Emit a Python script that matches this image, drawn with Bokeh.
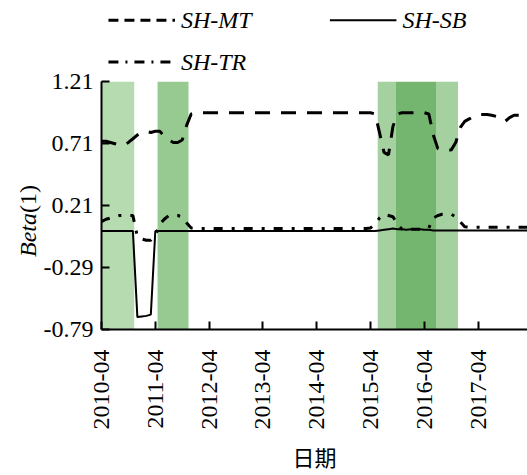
import math
from bokeh.plotting import figure
from bokeh.layouts import row
from bokeh.models import Range1d, FixedTicker, Div
from bokeh.core.properties import value
from bokeh.embed import file_html
from bokeh.resources import INLINE

# ---------------- data ----------------
# monthly observations, index 0 = 2010-04
months = list(range(96))

sh_mt = [0.73, 0.73, 0.72, 0.71, 0.70, 0.70, 0.72, 0.75, 0.78, 0.80,
         0.81, 0.80, 0.81, 0.81, 0.77, 0.74, 0.72, 0.72, 0.74, 0.86,
         0.95, 0.96, 0.96, 0.96, 0.96, 0.96, 0.96, 0.96, 0.96, 0.96,
         0.96, 0.96, 0.96, 0.96, 0.96, 0.96, 0.96, 0.96, 0.96, 0.96,
         0.96, 0.96, 0.96, 0.96, 0.96, 0.96, 0.96, 0.96, 0.96, 0.96,
         0.96, 0.96, 0.96, 0.96, 0.96, 0.96, 0.96, 0.96, 0.96, 0.96,
         0.96, 0.95, 0.80, 0.64, 0.62, 0.85, 0.95, 0.96, 0.96, 0.96,
         0.96, 0.96, 0.96, 0.95, 0.78, 0.67, 0.66, 0.66, 0.66, 0.72,
         0.84, 0.89, 0.91, 0.93, 0.945, 0.945, 0.945, 0.94, 0.93, 0.91,
         0.89, 0.92, 0.94, 0.94, 0.94, 0.94]

sh_sb = [0.005, 0.005, 0.005, 0.005, 0.005, 0.005, 0.005, 0.005, -0.69, -0.685,
         -0.68, -0.67, 0.005, 0.005, 0.005, 0.005, 0.005, 0.005, 0.005, 0.005,
         0.005, 0.005, 0.005, 0.005, 0.005, 0.005, 0.005, 0.005, 0.005, 0.005,
         0.005, 0.005, 0.005, 0.005, 0.005, 0.005, 0.005, 0.005, 0.005, 0.005,
         0.005, 0.005, 0.005, 0.005, 0.005, 0.005, 0.005, 0.005, 0.005, 0.005,
         0.005, 0.005, 0.005, 0.005, 0.005, 0.005, 0.005, 0.005, 0.005, 0.005,
         0.005, 0.005, 0.01, 0.015, 0.02, 0.025, 0.02, 0.02, 0.015, 0.02,
         0.02, 0.02, 0.015, 0.015, 0.01, 0.01, 0.01, 0.01, 0.01, 0.01,
         0.01, 0.01, 0.01, 0.01, 0.01, 0.01, 0.01, 0.01, 0.01, 0.01,
         0.01, 0.01, 0.01, 0.01, 0.01, 0.01]

sh_tr = [0.08, 0.10, 0.11, 0.12, 0.13, 0.13, 0.13, 0.13, -0.04, -0.06,
         -0.07, -0.07, -0.03, 0.06, 0.10, 0.13, 0.13, 0.13, 0.12, 0.07,
         0.03, 0.025, 0.025, 0.025, 0.025, 0.025, 0.025, 0.025, 0.025, 0.025,
         0.025, 0.025, 0.025, 0.025, 0.025, 0.025, 0.025, 0.025, 0.025, 0.025,
         0.025, 0.025, 0.025, 0.025, 0.025, 0.025, 0.025, 0.025, 0.025, 0.025,
         0.025, 0.025, 0.025, 0.025, 0.025, 0.025, 0.025, 0.025, 0.025, 0.025,
         0.03, 0.06, 0.11, 0.14, 0.13, 0.12, 0.06, 0.02, 0.02, 0.02,
         0.02, 0.02, 0.02, 0.03, 0.11, 0.13, 0.14, 0.14, 0.14, 0.12,
         0.08, 0.04, 0.035, 0.035, 0.035, 0.035, 0.035, 0.035, 0.035, 0.035,
         0.035, 0.035, 0.035, 0.035, 0.035, 0.035]

series_names = ["SH-MT", "SH-SB", "SH-TR"]

# shaded regime periods (month index)
band_start = [0.0, 12.5, 61.6, 65.6, 74.6]
band_end = [7.3, 19.4, 65.6, 74.6, 79.5]
band_colors = ["#b6dbb0", "#97ca91", "#a5d09f", "#74b66f", "#a5d09f"]

y_ticks = [-0.79, -0.29, 0.21, 0.71, 1.21]
y_tick_labels = ["-0.79", "-0.29", "0.21", "0.71", "1.21"]
x_ticks = [0, 12, 24, 36, 48, 60, 72, 84]
x_tick_labels = ["2010-04", "2011-04", "2012-04", "2013-04",
                 "2014-04", "2015-04", "2016-04", "2017-04"]
y_title_parts = ["Beta", "(1)"]
x_title = "日期"

# ---------------- layout constants (pixels) ----------------
W, H = 527, 475
TITLE_W = 40          # strip holding the y title
FRAME_L = 98          # page x of the plot frame's left edge
FRAME_B = 332         # page y of the plot frame's bottom edge
PX_PER_UNIT = 125     # vertical pixels per beta unit
Y_MIN, Y_MAX = -0.79, 1.21
SERIF = "Liberation Serif"
STYLES = {"SH-MT": ("15 11", 3), "SH-SB": ("solid", 2), "SH-TR": ("9 9 3 9", 3)}
LEG_DASH = {"SH-MT": "10 6", "SH-SB": "solid", "SH-TR": "10 7 2 7"}

# ---------------- main figure ----------------
p = figure(width=W - TITLE_W, height=H, output_backend="svg", toolbar_location=None,
           x_range=Range1d(0, 95),
           y_range=Range1d(Y_MIN, Y_MIN + FRAME_B / PX_PER_UNIT),
           min_border_left=FRAME_L - TITLE_W, min_border_right=0,
           min_border_top=0, min_border_bottom=H - FRAME_B)
p.outline_line_color = None
p.grid.visible = False
p.background_fill_color = "white"
p.border_fill_color = "white"
# pixel-coordinate ranges for the legend drawn above the data area
p.extra_x_ranges = {"px": Range1d(FRAME_L, W)}
p.extra_y_ranges = {"px": Range1d(FRAME_B, 0)}

p.quad(left=band_start, right=band_end, bottom=Y_MIN, top=Y_MAX,
       fill_color=band_colors, line_color=None)

for name, ys in zip(series_names, [sh_mt, sh_sb, sh_tr]):
    dash, lw = STYLES[name]
    p.line(months, ys, line_color="black", line_width=lw, line_dash=dash)

# legend: (series, glyph left x, row centre y) in page pixels
leg_slots = [(series_names[0], 105, 20), (series_names[1], 328, 20),
             (series_names[2], 105, 62)]
for name, gx, gy in leg_slots:
    dash, lw = STYLES[name]
    p.line([gx, gx + 67], [gy, gy], line_color="black", line_width=lw,
           line_dash=LEG_DASH[name], x_range_name="px", y_range_name="px")
    p.text(x=[gx + 73], y=[gy], text=[name], text_font=value(SERIF),
           text_font_style=value("italic"), text_font_size=value("24px"),
           text_align="left", text_baseline="middle", text_color="black",
           x_range_name="px", y_range_name="px")

for ax in (p.xaxis[0], p.yaxis[0]):
    ax.axis_line_color = "black"
    ax.axis_line_width = 2
    ax.major_tick_line_color = "black"
    ax.major_tick_line_width = 2
    ax.major_tick_in = 8
    ax.major_tick_out = 0
    ax.minor_tick_line_color = None
    ax.major_label_text_font = SERIF
    ax.major_label_text_font_size = "24px"
    ax.major_label_text_color = "black"

p.yaxis.bounds = (Y_MIN, Y_MAX)
p.yaxis.ticker = FixedTicker(ticks=y_ticks)
p.yaxis.major_label_overrides = dict(zip(y_ticks, y_tick_labels))
p.yaxis.major_label_standoff = 8

p.xaxis.ticker = FixedTicker(ticks=x_ticks)
p.xaxis.major_label_overrides = dict(zip(x_ticks, x_tick_labels))
p.xaxis.major_label_orientation = math.pi / 2
p.xaxis.major_label_standoff = 20
p.xaxis.axis_label = x_title
p.xaxis.axis_label_text_font = "Noto Sans CJK SC"
p.xaxis.axis_label_text_font_style = "normal"
p.xaxis.axis_label_text_font_size = "22px"
p.xaxis.axis_label_text_color = "black"
p.xaxis.axis_label_standoff = 8

# ---------------- y title (italic "Beta" + upright "(1)"), rotated ----------------
title_html = (
    '<div style="position:absolute; left:15px; top:257px; '
    'transform-origin:0 0; transform:rotate(-90deg); white-space:nowrap; '
    "font-family:'Liberation Serif', serif; font-size:24px; line-height:27px; "
    'color:black;">'
    f'<i>{y_title_parts[0]}</i>{y_title_parts[1]}</div>'
)
title_div = Div(text=title_html, width=TITLE_W, height=H, margin=0,
                styles={"position": "relative", "overflow": "visible"})

layout = row(title_div, p)
open("out.html", "w").write(file_html(layout, INLINE))
